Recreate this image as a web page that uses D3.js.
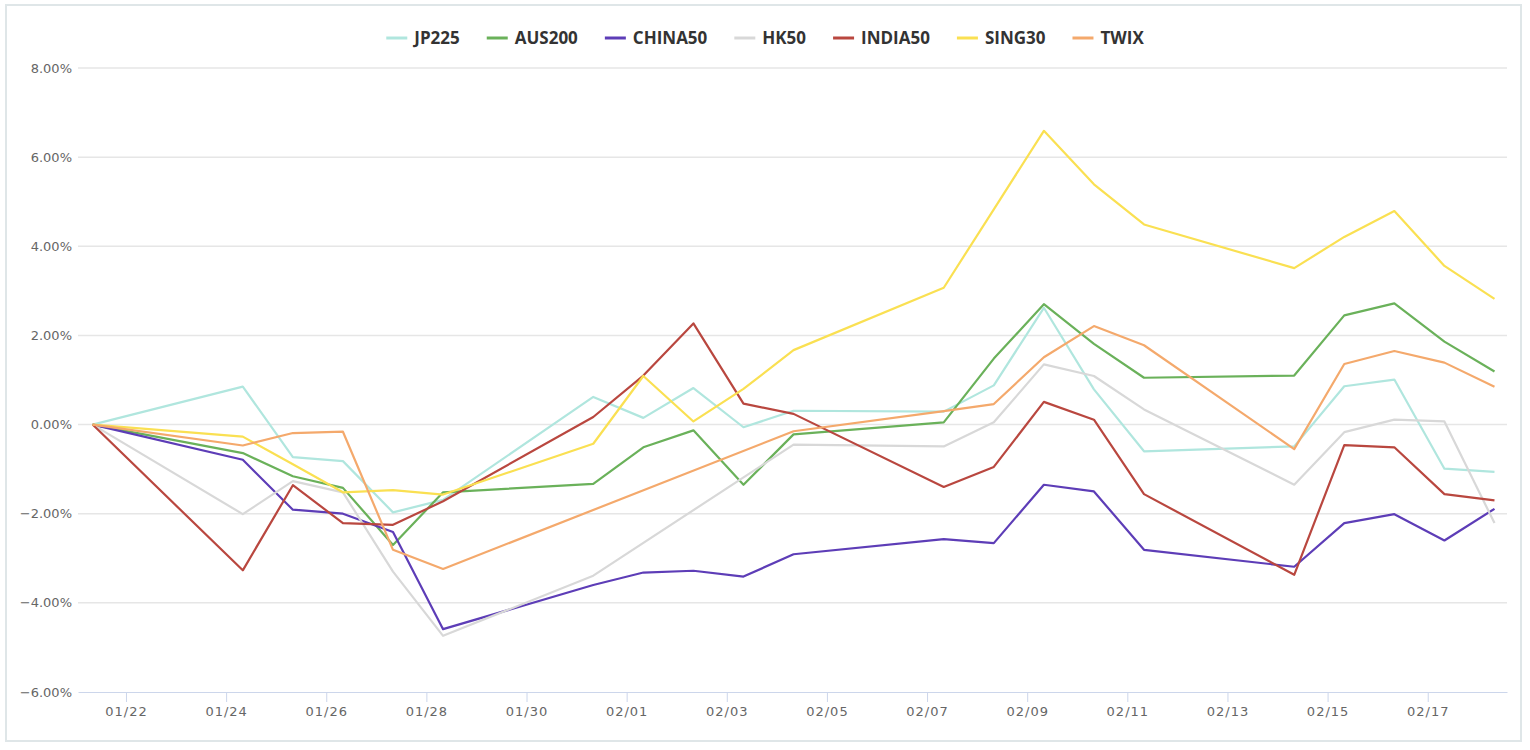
<!DOCTYPE html>
<html>
<head>
<meta charset="utf-8">
<script src="https://cdn.jsdelivr.net/npm/d3@7"></script>
<style>
  html, body { margin:0; padding:0; background:#ffffff; }
  svg { display:block; }
</style>
</head>
<body>
<svg id="chart" width="1530" height="750"></svg>
<script>
let dates = ["2022-01-21","2022-01-24","2022-01-25","2022-01-26","2022-01-27","2022-01-28","2022-01-31",
             "2022-02-01","2022-02-02","2022-02-03","2022-02-04","2022-02-07","2022-02-08","2022-02-09",
             "2022-02-10","2022-02-11","2022-02-14","2022-02-15","2022-02-16","2022-02-17","2022-02-18"];

let names  = ["JP225","AUS200","CHINA50","HK50","INDIA50","SING30","TWIX"];
let colors = ["#b0e6de","#6ab15a","#5d3db7","#d8d8d8","#b9473f","#fae052","#f4a96c"];

let jp225   = [0, 0.85, -0.73, -0.82, -1.97, -1.69, 0.62, 0.15, 0.82, -0.06, 0.31, 0.29, 0.88, 2.62, 0.79, -0.60, -0.49, 0.86, 1.01, -0.99, -1.06];
let aus200  = [0, -0.64, -1.16, -1.42, -2.70, -1.52, -1.33, -0.51, -0.13, -1.35, -0.22, 0.05, 1.48, 2.70, 1.81, 1.05, 1.10, 2.45, 2.72, 1.86, 1.19];
let china50 = [0, -0.79, -1.91, -2.00, -2.41, -4.59, -3.60, -3.32, -3.28, -3.41, -2.91, -2.57, -2.66, -1.35, -1.50, -2.81, -3.19, -2.21, -2.01, -2.60, -1.89];
let hk50    = [0, -2.01, -1.27, -1.52, -3.30, -4.74, -3.39, null, null, null, -0.45, -0.49, 0.05, 1.35, 1.09, 0.34, -1.35, -0.17, 0.11, 0.07, -2.21];
let india50 = [0, -3.27, -1.36, -2.21, -2.25, -1.72, 0.17, 1.10, 2.27, 0.47, 0.24, -1.40, -0.95, 0.51, 0.11, -1.56, -3.37, -0.46, -0.51, -1.56, -1.70];
let sing30  = [0, -0.27, -0.89, -1.52, -1.47, -1.57, -0.43, 1.09, 0.07, 0.80, 1.67, 3.07, 4.83, 6.59, 5.39, 4.49, 3.51, 4.21, 4.79, 3.56, 2.82];
let twix    = [0, -0.47, -0.19, -0.16, -2.81, -3.24, null, null, null, null, -0.15, 0.30, 0.46, 1.51, 2.21, 1.78, -0.55, 1.36, 1.65, 1.39, 0.85];

let yTicks = [-6, -4, -2, 0, 2, 4, 6, 8];

let values = [jp225, aus200, china50, hk50, india50, sing30, twix];

let plotL=78, plotR=1507, plotT=68, plotB=692;

let svg = d3.select("#chart");

// outer frame
svg.append("rect")
    .attr("x", 6).attr("y", 5)
    .attr("width", 1515).attr("height", 736)
    .attr("fill", "#ffffff")
    .attr("stroke", "#dfe6e8")
    .attr("stroke-width", 2);

// points sit at 08:00 of each day
let parse = s => new Date(s + "T08:00:00Z");

let x = d3.scaleUtc()
    .domain([Date.UTC(2022,0,21,1), Date.UTC(2022,1,18,14)])
    .range([plotL, plotR]);

let y = d3.scaleLinear()
    .domain([-6, 8])
    .range([plotB, plotT]);

// grid
svg.append("g")
    .selectAll("line")
    .data(yTicks.filter(d => d != -6))
    .join("line")
    .attr("x1", plotL).attr("x2", plotR)
    .attr("y1", d => y(d)).attr("y2", d => y(d))
    .attr("stroke", "#e6e6e6")
    .attr("stroke-width", 1.5);

let fmt = d3.format(".2f");
svg.append("g")
    .selectAll("text")
    .data(yTicks)
    .join("text")
    .attr("x", plotL-6)
    .attr("y", d => y(d))
    .attr("dy", "0.35em")
    .attr("text-anchor", "end")
    .attr("font-family", "DejaVu Sans, sans-serif")
    .attr("font-size", 13)
    .attr("fill", "#666666")
    .text(d => fmt(d) + "%");

// x axis
let xTicks = d3.utcDay.range(new Date(Date.UTC(2022,0,22)), new Date(Date.UTC(2022,1,18)), 2);
let xAxis = d3.axisBottom(x)
    .tickValues(xTicks)
    .tickFormat(d3.utcFormat("%m/%d"))
    .tickSize(10)
    .tickSizeOuter(0);

let gx = svg.append("g")
    .attr("transform", `translate(0,${plotB})`)
    .call(xAxis);
gx.select(".domain").attr("stroke", "#ccd6eb");
gx.selectAll(".tick line").attr("stroke", "#ccd6eb");
gx.selectAll(".tick text")
    .attr("y", 15)
    .attr("font-family", "DejaVu Sans, sans-serif")
    .attr("font-size", 13)
    .attr("letter-spacing", "1px")
    .attr("fill", "#666666");

// lines
let line = d3.line()
    .x(d => x(d.date))
    .y(d => y(d.v));

let series = names.map((n, i) => ({
    name: n,
    color: colors[i],
    pts: dates.map((s, j) => ({date: parse(s), v: values[i][j]})).filter(d => d.v !== null)
}));

svg.append("g")
    .selectAll("path")
    .data(series)
    .join("path")
    .attr("d", d => line(d.pts))
    .attr("fill", "none")
    .attr("stroke", d => d.color)
    .attr("stroke-width", 2.2)
    .attr("stroke-linejoin", "round");

// legend
let lg = svg.append("g");
let items = lg.selectAll("g")
    .data(series)
    .join("g");

items.append("line")
    .attr("x1", 0).attr("x2", 21)
    .attr("y1", 0).attr("y2", 0)
    .attr("stroke", d => d.color)
    .attr("stroke-width", 3);

items.append("text")
    .attr("x", 28)
    .attr("y", 0)
    .attr("dy", "0.35em")
    .attr("font-family", "Open Sans, sans-serif")
    .attr("font-weight", 700)
    .attr("font-size", 17)
    .attr("fill", "#333333")
    .text(d => d.name);

let pos = 0;
let offs = [];
items.each(function(d){
    let w = d3.select(this).select("text").node().getComputedTextLength();
    offs.push(pos);
    pos += 28 + w + 27;
});
let total = pos - 27;
let start = 765 - total/2;
items.attr("transform", (d, i) => `translate(${start + offs[i]},38)`);
</script>
</body>
</html>
